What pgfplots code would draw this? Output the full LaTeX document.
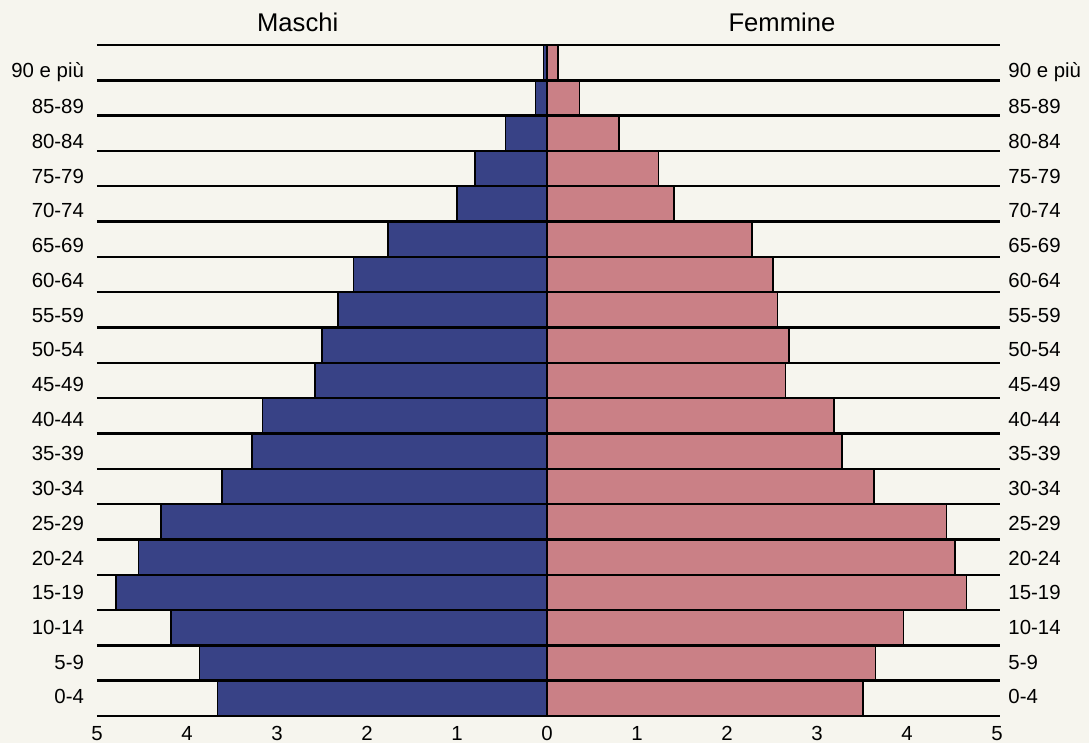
\documentclass[border=0pt]{standalone}
\usepackage{fontspec}
\setmainfont{Liberation Sans}
\usepackage{pgfplots}
\usepackage{pgfplotstable}
\pgfplotsset{compat=1.18}
\definecolor{maleblue}{RGB}{56,66,134}
\definecolor{femalepink}{RGB}{202,128,134}
\definecolor{bgc}{RGB}{246,245,238}
\pgfplotstableread{
y male female
0.5 3.66 3.51
1.5 3.86 3.65
2.5 4.18 3.96
3.5 4.79 4.66
4.5 4.54 4.53
5.5 4.29 4.44
6.5 3.61 3.63
7.5 3.28 3.28
8.5 3.16 3.19
9.5 2.58 2.65
10.5 2.50 2.69
11.5 2.32 2.56
12.5 2.15 2.51
13.5 1.77 2.28
14.5 1.00 1.41
15.5 0.80 1.24
16.5 0.46 0.80
17.5 0.13 0.36
18.5 0.04 0.12
}\pop
\pgfplotsset{
  pyr/.style={
    scale only axis, width=451.5pt, height=335.5pt,
    xmin=-5, xmax=5.033, ymin=0, ymax=19,
    axis line style={draw=none},
    major tick length=0pt,
    ytick={0.54,1.523,2.506,3.489,4.472,5.455,6.438,7.421,8.404,9.387,10.37,11.353,12.336,13.319,14.302,15.285,16.268,17.251,18.234},
    yticklabels={0-4,5-9,10-14,15-19,20-24,25-29,30-34,35-39,40-44,45-49,50-54,55-59,60-64,65-69,70-74,75-79,80-84,85-89,90 e più},
    tick label style={font=\fontsize{10.2}{12}\selectfont},
    /pgf/number format/assume math mode=true,
  }
}
\begin{document}
\begin{tikzpicture}
\fill[bgc] (-48.5pt,-13.5pt) rectangle ++(544.5pt,371.5pt);
\begin{axis}[
  pyr,
  xtick={-5,-4,-3,-2,-1,0,1,2,3,4,5},
  xticklabels={5,4,3,2,1,0,1,2,3,4,5},
  xticklabel style={yshift=-1.5pt},
  yticklabel style={xshift=-3pt},
  extra y ticks={0,1,2,3,4,5,6,7,8,9,10,11,12,13,14,15,16,17,18,19},
  extra y tick labels={},
  extra y tick style={grid=major, major grid style={black, line width=1.2pt}},
  axis on top,
  clip=false,
]
\addplot[xbar, bar width=1, bar shift=0pt, fill=maleblue, draw=black, line width=0.8pt]
  table[x expr=-\thisrow{male}, y=y] {\pop};
\addplot[xbar, bar width=1, bar shift=0pt, fill=femalepink, draw=black, line width=0.8pt]
  table[x=female, y=y] {\pop};
\node[font=\fontsize{12.8}{15}\selectfont, yshift=11.5pt] at (axis cs:-2.77,19) {Maschi};
\node[font=\fontsize{12.8}{15}\selectfont, yshift=11.5pt] at (axis cs:2.61,19) {Femmine};
\end{axis}
\begin{axis}[
  pyr,
  xtick=\empty,
  yticklabel pos=right,
  yticklabel style={xshift=0.7pt},
]
\end{axis}
\end{tikzpicture}
\end{document}
